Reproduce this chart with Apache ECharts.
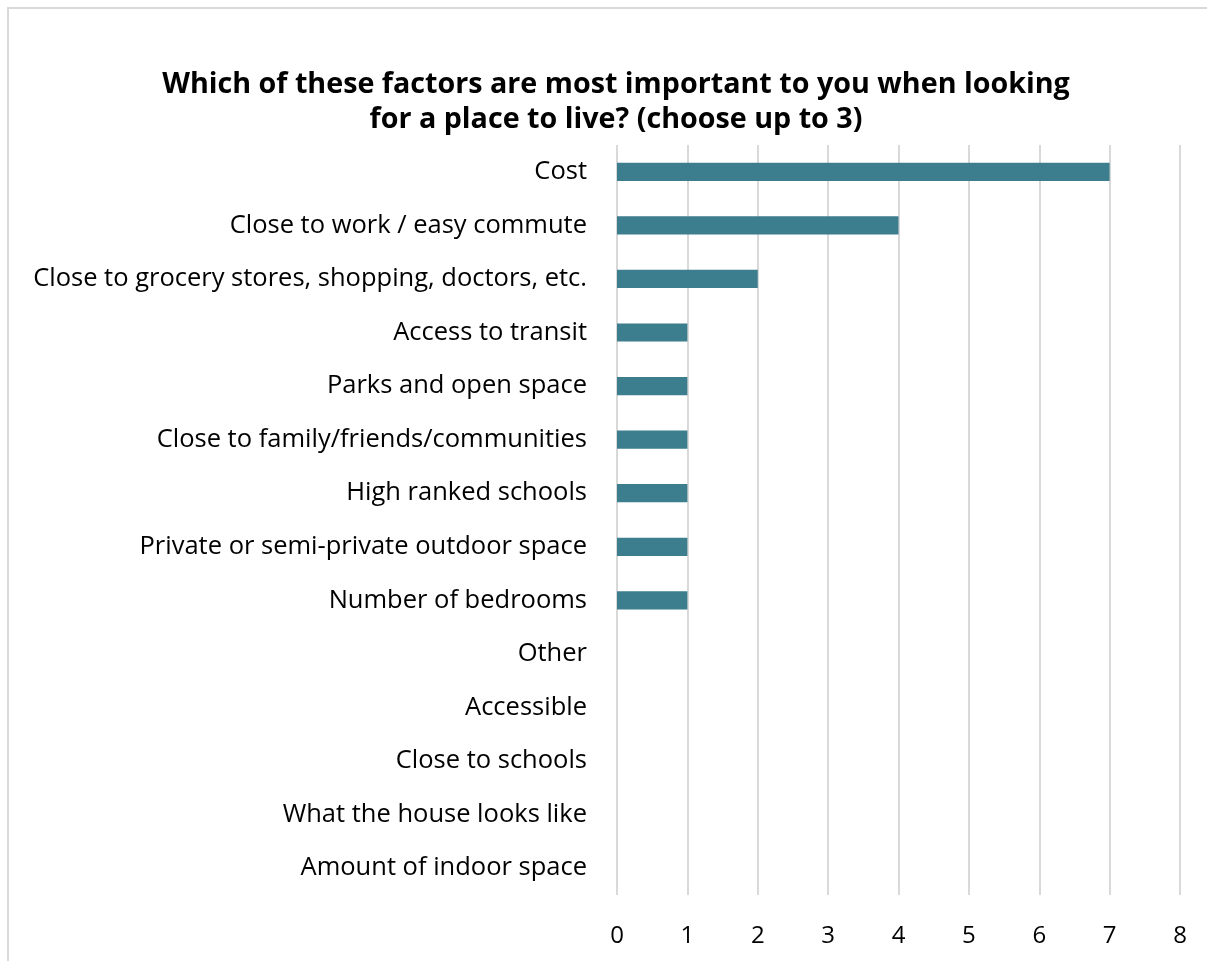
<!DOCTYPE html>
<html><head><meta charset="utf-8">
<script src="https://cdn.jsdelivr.net/npm/echarts@6/dist/echarts.min.js"></script>
<style>
html,body{margin:0;padding:0;background:#fff;overflow:hidden;width:1207px;height:961px;}
#frame{position:absolute;left:7px;top:7px;width:1230px;height:1000px;border:2px solid #d9d9d9;border-right:none;border-bottom:none;box-sizing:border-box;}
#c{position:absolute;left:0;top:0;width:1207px;height:961px;}
</style></head>
<body><div id="frame"></div><div id="c"></div>
<script>
const categories = ["Cost","Close to work / easy commute","Close to grocery stores, shopping, doctors, etc.","Access to transit","Parks and open space","Close to family/friends/communities","High ranked schools","Private or semi-private outdoor space","Number of bedrooms","Other","Accessible","Close to schools","What the house looks like","Amount of indoor space"];
const values = [7,4,2,1,1,1,1,1,1,0,0,0,0,0];
const titleText = "Which of these factors are most important to you when looking\nfor a place to live? (choose up to 3)";
const FONT = "Open Sans";
const chart = echarts.init(document.getElementById('c'));
chart.setOption({
  animation:false,
  title:{text:titleText,left:611,top:62,textAlign:'center',
    textStyle:{fontFamily:FONT,fontSize:28.7,fontWeight:'bold',color:'#000',lineHeight:35}},
  grid:{left:617,right:27,top:145,bottom:66,containLabel:false},
  xAxis:{type:'value',min:0,max:8,interval:1,
    axisLine:{show:false},axisTick:{show:false},
    axisLabel:{fontFamily:FONT,fontSize:24,color:'#000',margin:29},
    splitLine:{lineStyle:{color:'#d9d9d9',width:2}}},
  yAxis:{type:'category',data:categories,inverse:true,
    axisLine:{show:false},axisTick:{show:false},
    axisLabel:{fontFamily:FONT,fontSize:25.5,color:'#000',margin:30}},
  series:[{type:'bar',data:values,barCategoryGap:'66%',itemStyle:{color:'#3C7D8E'}}]
});
</script></body></html>
